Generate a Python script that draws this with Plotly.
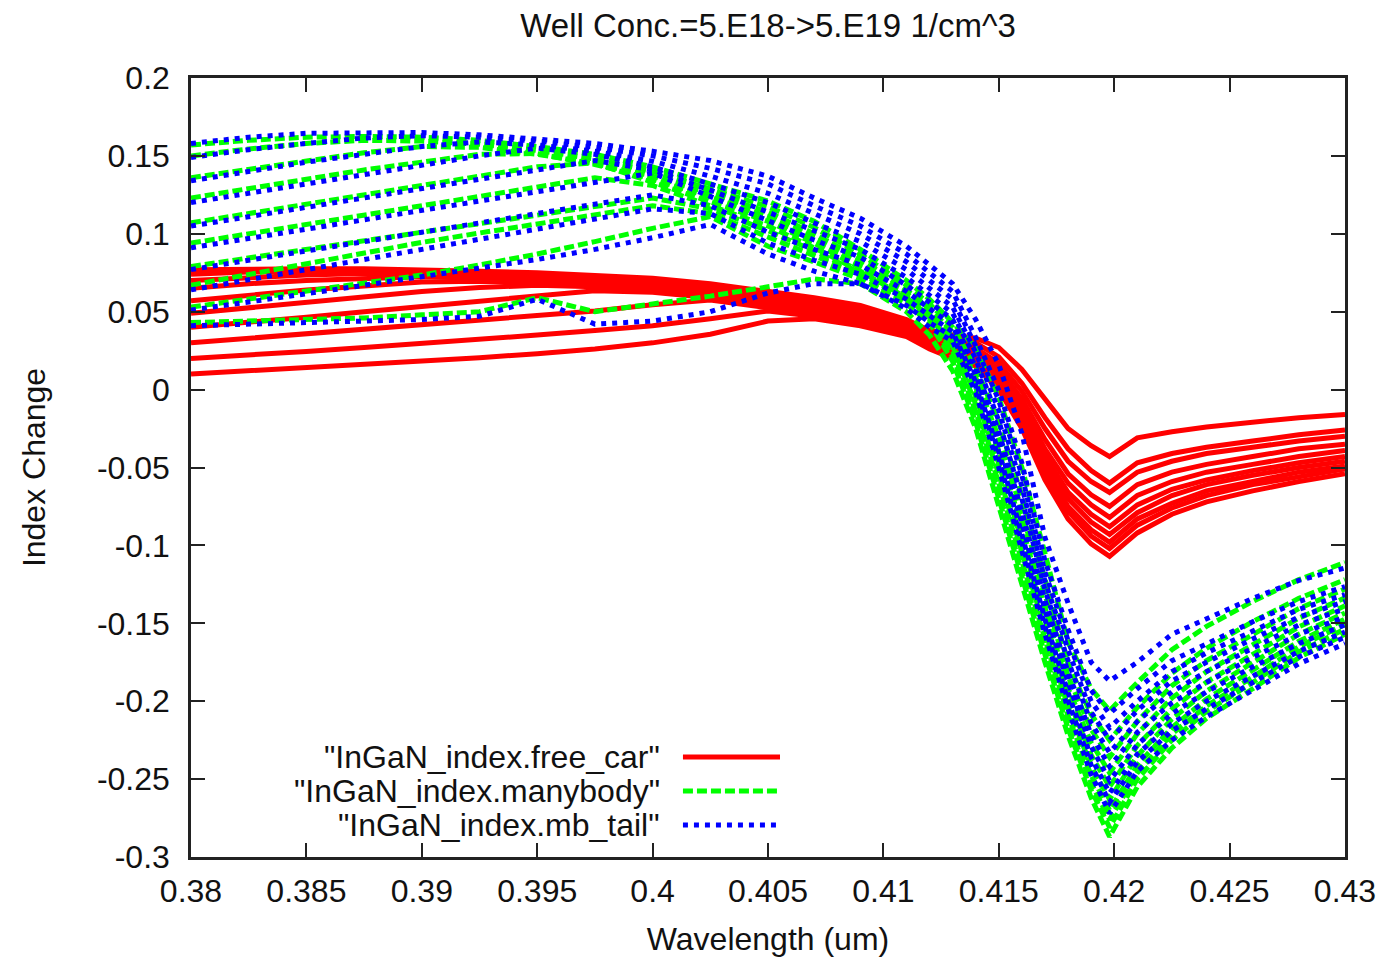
import plotly.graph_objects as go

# ---------------- data ----------------
wavelength = [0.380, 0.3825, 0.385, 0.3875, 0.390, 0.3925, 0.395, 0.3975, 0.400, 0.4025,
              0.405, 0.407, 0.409, 0.411, 0.412, 0.413, 0.414, 0.415, 0.416, 0.417,
              0.418, 0.419, 0.4198, 0.421, 0.4225, 0.424, 0.426, 0.428, 0.430]

# free carrier index change, 10 well concentrations
free_car_1 = [0.077, 0.0775, 0.0775, 0.0775, 0.077, 0.076, 0.075, 0.0735, 0.0715, 0.068, 0.063, 0.059, 0.054,
              0.045, 0.038, 0.035, 0.033, 0.027, 0.013, -0.006, -0.025, -0.036, -0.043,
              -0.031, -0.027, -0.024, -0.021, -0.018, -0.016]
free_car_2 = [0.074, 0.0755, 0.076, 0.076, 0.0755, 0.0745, 0.0735, 0.072, 0.070, 0.0665, 0.0615, 0.0575, 0.0525,
              0.044, 0.037, 0.034, 0.030, 0.021, 0.004, -0.018, -0.038, -0.052, -0.060,
              -0.047, -0.041, -0.037, -0.033, -0.029, -0.026]
free_car_3 = [0.070, 0.072, 0.0735, 0.0745, 0.074, 0.073, 0.072, 0.0705, 0.0685, 0.065, 0.060, 0.056, 0.051,
              0.043, 0.0355, 0.032, 0.0265, 0.017, -0.001, -0.025, -0.046, -0.059, -0.066,
              -0.053, -0.046, -0.041, -0.037, -0.033, -0.030]
free_car_4 = [0.065, 0.068, 0.070, 0.0715, 0.0725, 0.0715, 0.0705, 0.069, 0.067, 0.0635, 0.0585, 0.0545, 0.0495,
              0.042, 0.034, 0.030, 0.024, 0.0135, -0.006, -0.032, -0.054, -0.0675, -0.075,
              -0.061, -0.053, -0.048, -0.043, -0.038, -0.035]
free_car_5 = [0.057, 0.0605, 0.064, 0.0665, 0.069, 0.0695, 0.069, 0.0675, 0.0655, 0.062, 0.057, 0.053, 0.048,
              0.041, 0.033, 0.029, 0.022, 0.0105, -0.010, -0.038, -0.060, -0.074, -0.082,
              -0.068, -0.059, -0.053, -0.048, -0.043, -0.039]
free_car_6 = [0.049, 0.0525, 0.056, 0.0595, 0.063, 0.0655, 0.067, 0.066, 0.064, 0.0605, 0.0555, 0.0515, 0.047,
              0.040, 0.032, 0.027, 0.0205, 0.008, -0.0135, -0.042, -0.066, -0.080, -0.088,
              -0.074, -0.064, -0.058, -0.052, -0.047, -0.043]
free_car_7 = [0.040, 0.043, 0.0465, 0.050, 0.0535, 0.057, 0.0605, 0.0635, 0.0625, 0.059, 0.054, 0.050, 0.0455,
              0.039, 0.030, 0.025, 0.019, 0.006, -0.0165, -0.0465, -0.070, -0.085, -0.093,
              -0.079, -0.068, -0.061, -0.055, -0.050, -0.046]
free_car_8 = [0.030, 0.033, 0.036, 0.039, 0.042, 0.045, 0.048, 0.0505, 0.0545, 0.0575, 0.0525, 0.0485, 0.044,
              0.037, 0.029, 0.024, 0.0175, 0.004, -0.0195, -0.0505, -0.075, -0.090, -0.098,
              -0.083, -0.073, -0.065, -0.059, -0.053, -0.049]
free_car_9 = [0.020, 0.022, 0.0245, 0.027, 0.0295, 0.032, 0.035, 0.038, 0.041, 0.0455, 0.0505, 0.047, 0.0425,
              0.0355, 0.0275, 0.022, 0.0165, 0.002, -0.022, -0.054, -0.078, -0.094, -0.102,
              -0.087, -0.076, -0.068, -0.061, -0.056, -0.051]
free_car_10 = [0.010, 0.012, 0.014, 0.016, 0.018, 0.0205, 0.023, 0.026, 0.030, 0.0355, 0.044, 0.0455, 0.041,
               0.034, 0.026, 0.020, 0.015, 0.000, -0.025, -0.058, -0.083, -0.099, -0.107,
               -0.092, -0.080, -0.072, -0.065, -0.059, -0.054]

# many-body index change
manybody_1 = [0.157, 0.160, 0.162, 0.1625, 0.162, 0.160, 0.156, 0.151, 0.143, 0.132, 0.121, 0.108, 0.090,
              0.070, 0.058, 0.043, 0.027, -0.005, -0.050, -0.105, -0.162, -0.192, -0.206,
              -0.188, -0.167, -0.152, -0.136, -0.122, -0.111]
manybody_2 = [0.150, 0.1545, 0.158, 0.160, 0.1595, 0.1575, 0.1535, 0.148, 0.140, 0.129, 0.1175, 0.104, 0.087,
              0.067, 0.055, 0.040, 0.0148, -0.0215, -0.068, -0.1215, -0.176, -0.2085, -0.225,
              -0.204, -0.182, -0.166, -0.149, -0.134, -0.122]
manybody_3 = [0.136, 0.1415, 0.147, 0.152, 0.156, 0.1555, 0.151, 0.145, 0.137, 0.126, 0.114, 0.100, 0.084,
              0.064, 0.052, 0.037, 0.0078, -0.031, -0.0785, -0.131, -0.184, -0.218, -0.236,
              -0.213, -0.190, -0.174, -0.157, -0.1405, -0.128]
manybody_4 = [0.123, 0.129, 0.135, 0.141, 0.146, 0.151, 0.1515, 0.1445, 0.135, 0.1235, 0.111, 0.097, 0.081,
              0.062, 0.050, 0.034, 0.0013, -0.0395, -0.088, -0.1395, -0.1915, -0.2265, -0.246,
              -0.221, -0.198, -0.181, -0.1635, -0.1467, -0.1337]
manybody_5 = [0.107, 0.113, 0.119, 0.125, 0.131, 0.137, 0.143, 0.1455, 0.133, 0.121, 0.108, 0.094, 0.078,
              0.060, 0.048, 0.031, -0.0045, -0.0475, -0.0965, -0.1475, -0.198, -0.2345, -0.255,
              -0.2285, -0.205, -0.1877, -0.170, -0.1523, -0.1388]
manybody_6 = [0.094, 0.100, 0.106, 0.112, 0.118, 0.124, 0.130, 0.136, 0.131, 0.118, 0.105, 0.091, 0.076,
              0.059, 0.047, 0.028, -0.0095, -0.0545, -0.104, -0.154, -0.204, -0.2415, -0.263,
              -0.235, -0.2115, -0.1935, -0.175, -0.157, -0.1434]
manybody_7 = [0.079, 0.0845, 0.090, 0.0955, 0.101, 0.1065, 0.112, 0.1175, 0.123, 0.116, 0.102, 0.089, 0.075,
              0.058, 0.046, 0.025, -0.014, -0.060, -0.111, -0.160, -0.2095, -0.2475, -0.270,
              -0.241, -0.217, -0.1986, -0.180, -0.1615, -0.1473]
manybody_8 = [0.067, 0.074, 0.081, 0.088, 0.0945, 0.1005, 0.1065, 0.1125, 0.118, 0.113, 0.098, 0.086, 0.073,
              0.057, 0.045, 0.021, -0.018, -0.0655, -0.1165, -0.1655, -0.214, -0.2525, -0.276,
              -0.246, -0.221, -0.203, -0.1845, -0.165, -0.1507]
manybody_9 = [0.053, 0.058, 0.063, 0.068, 0.0735, 0.080, 0.087, 0.095, 0.1035, 0.111, 0.092, 0.082, 0.071,
              0.055, 0.043, 0.018, -0.021, -0.070, -0.121, -0.170, -0.2175, -0.257, -0.281,
              -0.250, -0.225, -0.2066, -0.188, -0.1683, -0.1536]
manybody_10 = [0.043, 0.044, 0.045, 0.046, 0.048, 0.050, 0.059, 0.050, 0.055, 0.060, 0.066, 0.071, 0.068,
               0.050, 0.035, 0.012, -0.025, -0.075, -0.127, -0.175, -0.222, -0.262, -0.287,
               -0.255, -0.230, -0.211, -0.192, -0.172, -0.157]

# many-body with band tail
mb_tail_1 = [0.158, 0.162, 0.1645, 0.165, 0.165, 0.1635, 0.161, 0.158, 0.153, 0.147, 0.137, 0.123, 0.110,
             0.092, 0.080, 0.068, 0.045, 0.016, -0.028, -0.095, -0.137, -0.175, -0.187,
             -0.175, -0.157, -0.147, -0.134, -0.1225, -0.1145]
mb_tail_2 = [0.149, 0.154, 0.158, 0.1615, 0.163, 0.162, 0.1595, 0.1555, 0.150, 0.142, 0.132, 0.118, 0.105,
             0.087, 0.075, 0.063, 0.0334, -0.0003, -0.047, -0.110, -0.154, -0.193, -0.208,
             -0.192, -0.174, -0.163, -0.149, -0.136, -0.1265]
mb_tail_3 = [0.134, 0.140, 0.146, 0.151, 0.156, 0.159, 0.157, 0.153, 0.1465, 0.137, 0.126, 0.113, 0.100,
             0.082, 0.070, 0.058, 0.028, -0.007, -0.055, -0.117, -0.161, -0.200, -0.217,
             -0.200, -0.181, -0.169, -0.155, -0.141, -0.1316]
mb_tail_4 = [0.120, 0.126, 0.132, 0.138, 0.144, 0.150, 0.155, 0.151, 0.143, 0.132, 0.120, 0.107, 0.095,
             0.077, 0.065, 0.053, 0.024, -0.0135, -0.062, -0.123, -0.167, -0.207, -0.225,
             -0.206, -0.187, -0.175, -0.160, -0.146, -0.136]
mb_tail_5 = [0.105, 0.111, 0.117, 0.123, 0.129, 0.135, 0.141, 0.147, 0.141, 0.128, 0.114, 0.102, 0.090,
             0.072, 0.060, 0.049, 0.0196, -0.020, -0.070, -0.1285, -0.174, -0.214, -0.233,
             -0.213, -0.194, -0.181, -0.166, -0.151, -0.1407]
mb_tail_6 = [0.091, 0.097, 0.103, 0.109, 0.115, 0.121, 0.127, 0.133, 0.139, 0.124, 0.108, 0.096, 0.085,
             0.067, 0.056, 0.045, 0.0146, -0.027, -0.078, -0.135, -0.181, -0.2215, -0.242,
             -0.220, -0.201, -0.188, -0.172, -0.157, -0.146]
mb_tail_7 = [0.077, 0.083, 0.089, 0.095, 0.101, 0.107, 0.113, 0.119, 0.125, 0.118, 0.101, 0.090, 0.080,
             0.063, 0.052, 0.041, 0.0096, -0.034, -0.086, -0.1415, -0.188, -0.229, -0.251,
             -0.228, -0.208, -0.194, -0.178, -0.163, -0.151]
mb_tail_8 = [0.064, 0.0705, 0.077, 0.0835, 0.090, 0.0965, 0.103, 0.1095, 0.116, 0.113, 0.094, 0.083, 0.074,
             0.058, 0.047, 0.037, 0.005, -0.040, -0.093, -0.1475, -0.1945, -0.236, -0.259,
             -0.234, -0.2145, -0.200, -0.184, -0.168, -0.1556]
mb_tail_9 = [0.051, 0.056, 0.0615, 0.067, 0.0725, 0.078, 0.0835, 0.090, 0.0975, 0.106, 0.087, 0.076, 0.068,
             0.054, 0.043, 0.034, 0.002, -0.0445, -0.099, -0.152, -0.1995, -0.241, -0.265,
             -0.239, -0.219, -0.205, -0.188, -0.1716, -0.159]
mb_tail_10 = [0.041, 0.042, 0.043, 0.044, 0.045, 0.047, 0.058, 0.042, 0.044, 0.050, 0.062, 0.068, 0.068,
              0.052, 0.040, 0.031, -0.002, -0.050, -0.105, -0.157, -0.205, -0.247, -0.272,
              -0.245, -0.225, -0.210, -0.193, -0.176, -0.163]

series_names = ['"InGaN_index.free_car"', '"InGaN_index.manybody"', '"InGaN_index.mb_tail"']

x_tick_vals = [0.38, 0.385, 0.39, 0.395, 0.40, 0.405, 0.41, 0.415, 0.42, 0.425, 0.43]
x_tick_text = ["0.38", "0.385", "0.39", "0.395", "0.4", "0.405", "0.41", "0.415", "0.42", "0.425", "0.43"]
y_tick_vals = [-0.3, -0.25, -0.2, -0.15, -0.1, -0.05, 0.0, 0.05, 0.1, 0.15, 0.2]
y_tick_text = ["-0.3", "-0.25", "-0.2", "-0.15", "-0.1", "-0.05", "0", "0.05", "0.1", "0.15", "0.2"]

# ---------------- figure ----------------
RED, GREEN, BLUE = "#ff0000", "#00ff00", "#0000ff"
DASH_MB, DOT_TAIL = "10px,4px", "5px,6px"

families = [
    ([free_car_1, free_car_2, free_car_3, free_car_4, free_car_5,
      free_car_6, free_car_7, free_car_8, free_car_9, free_car_10], RED, "solid"),
    ([manybody_1, manybody_2, manybody_3, manybody_4, manybody_5,
      manybody_6, manybody_7, manybody_8, manybody_9, manybody_10], GREEN, DASH_MB),
    ([mb_tail_1, mb_tail_2, mb_tail_3, mb_tail_4, mb_tail_5,
      mb_tail_6, mb_tail_7, mb_tail_8, mb_tail_9, mb_tail_10], BLUE, DOT_TAIL),
]

FONT = "Liberation Sans, Arial, sans-serif"
LW = 5

fig = go.Figure()
for (curves, color, dash), name in zip(families, series_names):
    for i, ys in enumerate(curves):
        fig.add_trace(go.Scatter(
            x=wavelength, y=ys, mode="lines", name=name,
            legendgroup=name, showlegend=False,
            line=dict(color=color, width=LW, dash=dash),
        ))

axis_common = dict(
    showline=True, linecolor="#222", linewidth=2.5, mirror="ticks",
    ticks="inside", ticklen=14, tickwidth=2, tickcolor="#222",
    showgrid=False, zeroline=False,
    tickfont=dict(family=FONT, size=32, color="#111"),
)

fig.update_layout(
    width=1388, height=960,
    margin=dict(l=191, r=43, t=78, b=103, autoexpand=False),
    paper_bgcolor="white", plot_bgcolor="white",
    font=dict(family=FONT, size=32, color="#111"),
    title=dict(text="Well Conc.=5.E18->5.E19 1/cm^3", x=0.5, xref="paper",
               y=1 - 25 / 960, yanchor="middle", font=dict(family=FONT, size=33, color="#111")),
    xaxis=dict(range=[0.38, 0.43], tickvals=x_tick_vals, ticktext=x_tick_text,
               ticklabelstandoff=4,
               title=dict(text="Wavelength (um)", standoff=20,
                          font=dict(family=FONT, size=32, color="#111")),
               **axis_common),
    yaxis=dict(range=[-0.3, 0.2], tickvals=y_tick_vals, ticktext=y_tick_text,
               ticklabelstandoff=12,
               title=dict(text="Index Change", standoff=42,
                          font=dict(family=FONT, size=32, color="#111")),
               **axis_common),
    showlegend=False,
)

# legend drawn gnuplot-style: right aligned label, sample line to the right
legend_rows = [0.1284, 0.0847, 0.0411]
legend_styles = [(RED, "solid"), (GREEN, DASH_MB), (BLUE, DOT_TAIL)]
for name, yrow, (color, dash) in zip(series_names, legend_rows, legend_styles):
    fig.add_annotation(text=name, xref="paper", yref="paper", x=0.408, y=yrow,
                       xanchor="right", yanchor="middle", showarrow=False,
                       font=dict(family=FONT, size=32, color="#111"))
    fig.add_shape(type="line", xref="paper", yref="paper", x0=0.4263, x1=0.5104,
                  y0=yrow, y1=yrow, line=dict(color=color, width=LW, dash=dash))

fig.write_html("out.html")
